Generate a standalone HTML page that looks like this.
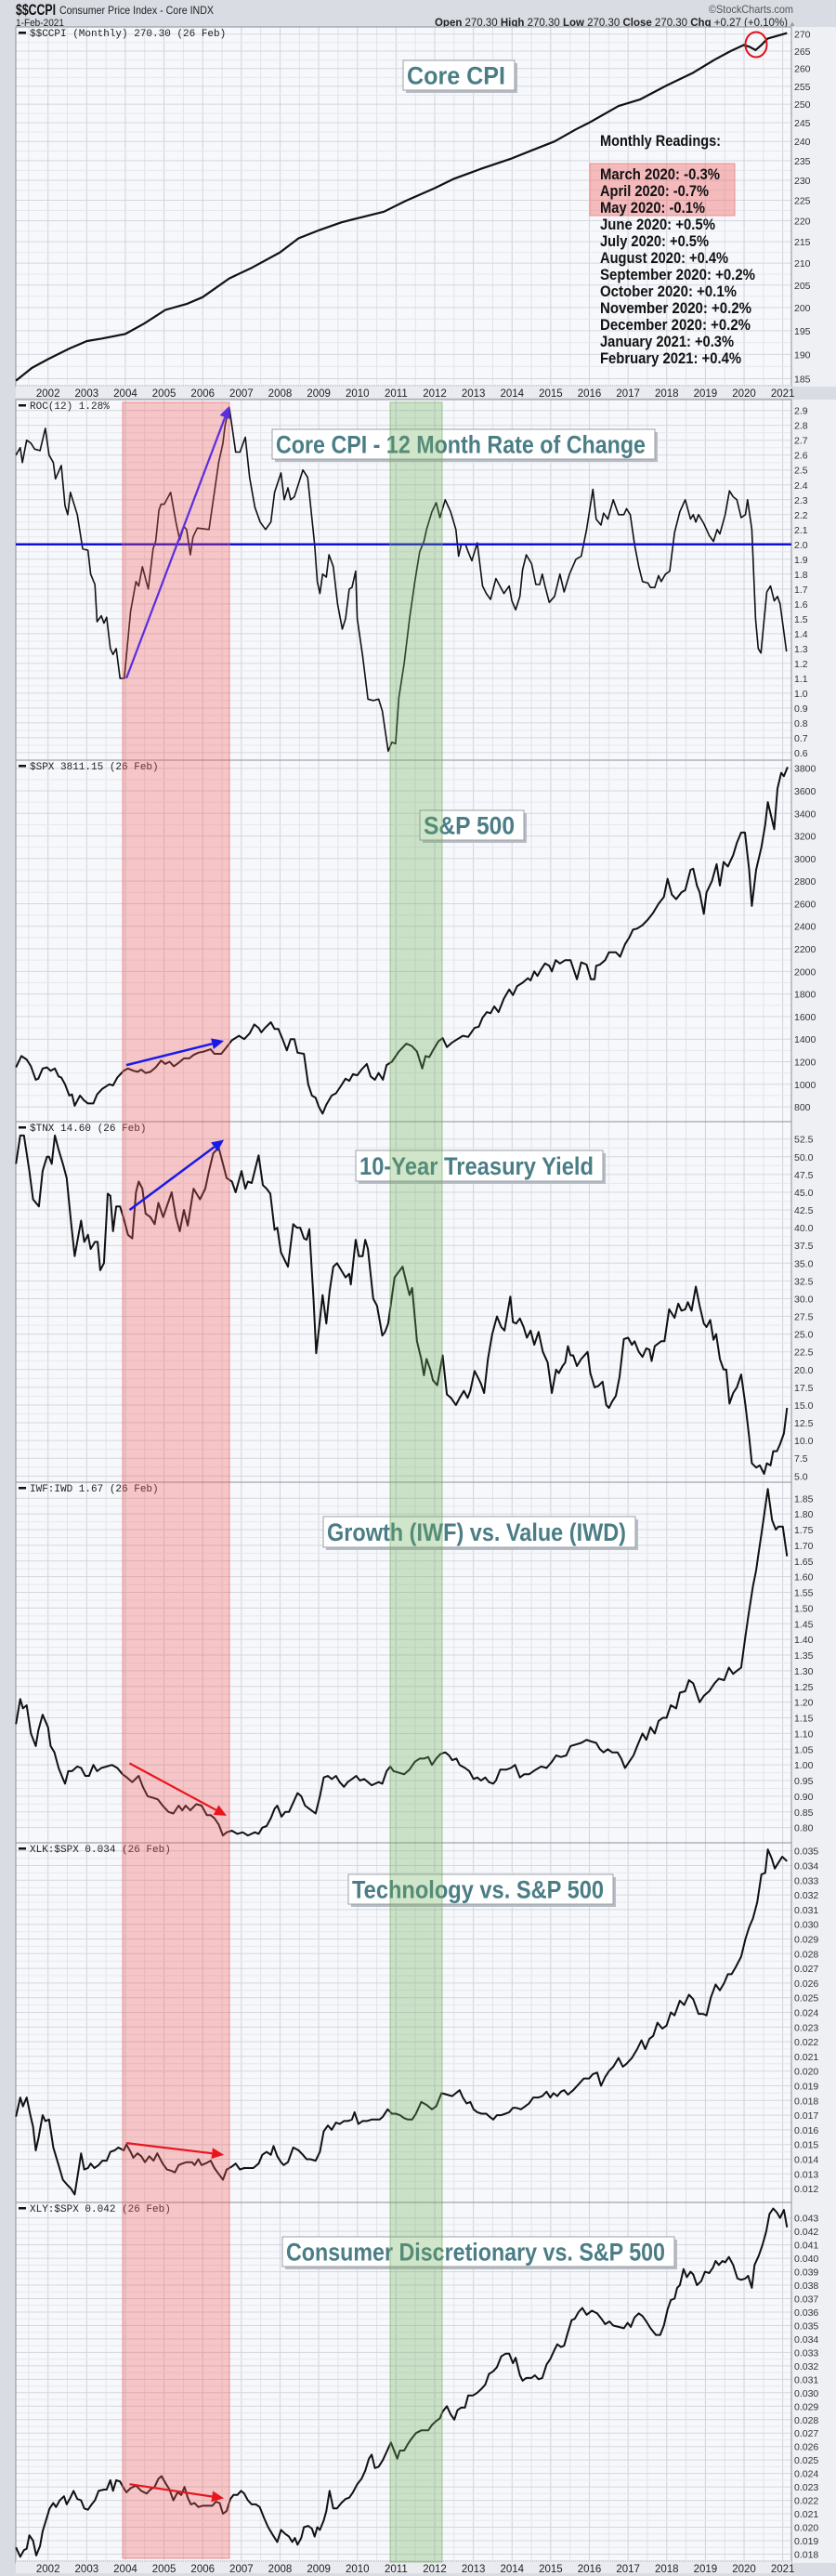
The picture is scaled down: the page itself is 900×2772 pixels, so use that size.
<!DOCTYPE html>
<html><head><meta charset="utf-8">
<style>
html,body{margin:0;padding:0;background:#d9dce3;}
svg{display:block;}
text{font-family:"Liberation Sans",sans-serif;}
.mono{font-family:"Liberation Mono",monospace;font-size:11px;fill:#222;}
.tick{font-size:10.5px;fill:#333;}
.yr{font-size:11.5px;fill:#222;}
.ttl{font-weight:bold;fill:#4a7d85;font-size:27px;}
.mr{font-weight:bold;fill:#111;font-size:17px;}
</style></head>
<body>
<svg id="s" width="900" height="2772" viewBox="0 0 900 2772" xmlns="http://www.w3.org/2000/svg">
<rect x="0" y="0" width="900" height="2772" fill="#d9dce3"/>
<text x="17" y="16" font-weight="bold" font-size="17" textLength="43" lengthAdjust="spacingAndGlyphs" fill="#111">$$CCPI</text>
<text x="64" y="15" font-size="12" textLength="166" lengthAdjust="spacingAndGlyphs" fill="#222">Consumer Price Index - Core INDX</text>
<text x="17" y="28" font-size="11" textLength="52" lengthAdjust="spacingAndGlyphs" fill="#222">1-Feb-2021</text>
<text x="763" y="14" font-size="12" textLength="91" lengthAdjust="spacingAndGlyphs" fill="#555">©StockCharts.com</text>
<text x="468" y="28" font-size="11.5" textLength="380" lengthAdjust="spacingAndGlyphs" fill="#222"><tspan font-weight="bold">Open</tspan> 270.30 <tspan font-weight="bold">High</tspan> 270.30 <tspan font-weight="bold">Low</tspan> 270.30 <tspan font-weight="bold">Close</tspan> 270.30 <tspan font-weight="bold">Chg</tspan> +0.27 (+0.10%)</text>
<text x="849" y="28" font-size="8" fill="#999">▲</text>
<g id="g"></g>
<g id="b"></g>
<g id="a"></g>
</svg>
<script>
(function(){
var NS="http://www.w3.org/2000/svg",G=document.getElementById("g"),GB=document.getElementById("b"),GA=document.getElementById("a");
var P=G;
function el(t,a,txt){var e=document.createElementNS(NS,t);for(var k in a)e.setAttribute(k,a[k]);if(txt!=null)e.textContent=txt;P.appendChild(e);return e;}
var L=17,R=852;
function X(zx){return zx/1.742;}
function xYear(y){return 51.7+(y-2002)*41.63;}
function panel(top,bot,ticks,yf,fmt,legend){
  el("rect",{x:L,y:top,width:R-L,height:bot-top,fill:"#f7f8fb"});
  el("rect",{x:R,y:top,width:900-R,height:bot-top,fill:"#eef0f4"});
  for(var t=2001.5;t<=2021.2;t+=0.5){var x=xYear(t);if(x>L&&x<R)el("line",{x1:x,y1:top,x2:x,y2:bot,stroke:(t%1==0)?"#cfd3db":"#e0e3e9","stroke-width":1});}
  for(var i=0;i<ticks.length;i++){var y=yf(ticks[i]);
    el("line",{x1:L,y1:y,x2:R,y2:y,stroke:"#d3d7de","stroke-width":1});
    if(i+1<ticks.length){var y2=(y+yf(ticks[i+1]))/2;el("line",{x1:L,y1:y2,x2:R,y2:y2,stroke:"#e6e8ed","stroke-width":1});}
    el("text",{x:855,y:y+4,"class":"tick"},fmt(ticks[i]));}
  el("rect",{x:L,y:top,width:R-L,height:bot-top,fill:"none",stroke:"#8a8f99","stroke-width":1});
  el("rect",{x:20,y:top+5,width:8,height:2.5,fill:"#111"});
  el("text",{x:32,y:top+10,"class":"mono"},legend);
}
function series(pts,yf,w){var d="";for(var i=0;i<pts.length;i+=2){d+=(i?"L":"M")+X(pts[i]).toFixed(1)+","+yf(pts[i+1]).toFixed(1);}
  el("path",{d:d,fill:"none",stroke:"#111","stroke-width":w||2,"stroke-linejoin":"round"});}
var arrows=[];
function arrow(x1,y1,x2,y2,c,w){arrows.push([x1,y1,x2,y2,c,w]);}
function drawArrow(x1,y1,x2,y2,c,w){var a=Math.atan2(y2-y1,x2-x1),h=13,s=6;
  var bx=x2-h*Math.cos(a),by=y2-h*Math.sin(a);
  el("line",{x1:x1,y1:y1,x2:bx,y2:by,stroke:c,"stroke-width":w||2.5});
  el("polygon",{points:x2+","+y2+" "+(bx+s*Math.sin(a))+","+(by-s*Math.cos(a))+" "+(bx-s*Math.sin(a))+","+(by+s*Math.cos(a)),fill:c});}
function title(x1,y1,x2,y2,txt){
  el("rect",{x:x1+3,y:y1+3,width:x2-x1,height:y2-y1,fill:"#b8bcc4"});
  el("rect",{x:x1,y:y1,width:x2-x1,height:y2-y1,fill:"#fff",stroke:"#9aa0a8","stroke-width":1});
  el("text",{x:x1+4,y:(y1+y2)/2+9.5,"class":"ttl",textLength:(x2-x1-14),lengthAdjust:"spacingAndGlyphs"},txt);}
function rng(a,b,s){var r=[];for(var v=a;v<=b+1e-9;v+=s)r.push(Math.round(v*1e6)/1e6);return r;}
function yearAxis(y){el("rect",{x:L,y:y-9,width:R-L,height:14,fill:"#e9ebf0"});
  el("line",{x1:L,y1:y-8,x2:R,y2:y-8,stroke:"#b0b4bc","stroke-dasharray":"1,1"});
  for(var yr=2002;yr<=2021;yr++)el("text",{x:xYear(yr),y:y+4,"class":"yr","text-anchor":"middle"},""+yr);}

/* P1 Core CPI (log) */
var p1f=function(v){return 36.7+(Math.log(270)-Math.log(v))*980.7;};
panel(29,416,rng(185,270,5),p1f,function(v){return ""+v;},"$$CCPI (Monthly) 270.30 (26 Feb)");
var cpi=[[30,184.6],[60,187.2],[90,189],[130,191.2],[163,192.8],[190,193.3],[235,194.3],[270,196.5],[310,199.5],[350,200.8],[380,202.3],[430,206.5],[470,208.8],[525,212.5],[560,215.8],[600,217.8],[640,219.6],[670,220.6],[720,222.2],[760,224.8],[815,228],[850,230.3],[900,232.8],[960,235.6],[1000,237.8],[1040,240],[1080,243.2],[1105,245],[1160,249.5],[1200,251.3],[1250,255.2],[1300,258.8],[1340,262.5],[1370,265],[1395,266.8],[1405,266.3],[1417,265.3],[1428,266.8],[1440,268.7],[1460,269.6],[1476,270.3]];
var cp=[];cpi.forEach(function(p){cp.push(p[0],p[1]);});
series(cp,p1f,2.2);
el("ellipse",{cx:814,cy:48,rx:11.5,ry:13.5,fill:"none",stroke:"#e0101a","stroke-width":2});
title(434,65,554,97,"Core CPI");
el("text",{x:646,y:157,"class":"mr",textLength:130,lengthAdjust:"spacingAndGlyphs"},"Monthly Readings:");
el("rect",{x:635,y:176,width:156,height:56,fill:"rgba(240,110,110,0.45)",stroke:"#e89090"});
var mr=[["March 2020:  -0.3%",129],["April 2020:  -0.7%",117],["May 2020:  -0.1%",113],["June 2020:  +0.5%",124],["July 2020:  +0.5%",117],["August 2020:  +0.4%",138],["September 2020:  +0.2%",167],["October 2020:  +0.1%",147],["November 2020:  +0.2%",163],["December 2020:  +0.2%",162],["January 2021:  +0.3%",144],["February 2021:  +0.4%",152]];
mr.forEach(function(m,i){el("text",{x:646,y:193+i*18,"class":"mr",textLength:m[1],lengthAdjust:"spacingAndGlyphs"},m[0]);});
yearAxis(423);

/* P2 ROC */
var p2f=function(v){return 441.7+(2.9-v)*160.1;};
panel(430,818,rng(0.6,2.9,0.1),p2f,function(v){return v.toFixed(1);},"ROC(12) 1.28%");
series([30,2.6,38,2.65,42,2.55,50,2.7,58,2.68,65,2.64,75,2.63,85,2.78,92,2.6,100,2.55,104,2.44,115,2.53,122,2.26,127,2.2,132,2.35,145,2.2,155,1.97,165,1.96,170,1.8,178,1.73,182,1.48,190,1.52,195,1.47,200,1.51,207,1.3,212,1.26,218,1.3,225,1.1,233,1.1,245,1.55,255,1.75,260,1.72,267,1.85,278,1.7,287,1.97,292,2.02,298,2.23,302,2.27,308,2.27,320,2.35,330,2.15,337,2.03,345,2.12,350,2.1,357,1.93,362,2.05,370,2.11,392,2.1,402,2.35,410,2.55,418,2.68,422,2.8,430,2.92,436,2.77,442,2.62,450,2.62,460,2.72,468,2.45,478,2.25,488,2.15,498,2.1,508,2.15,515,2.35,527,2.48,533,2.3,540,2.38,545,2.3,552,2.32,568,2.5,577,2.45,590,2.0,595,1.75,600,1.67,605,1.8,612,1.78,617,1.93,625,1.85,633,1.6,642,1.43,648,1.5,655,1.7,660,1.71,667,1.82,670,1.5,680,1.25,690,0.96,700,0.95,710,0.96,717,0.88,728,0.61,735,0.67,742,0.66,748,0.97,758,1.2,768,1.5,778,1.75,787,1.95,795,2.02,800,2.1,810,2.22,818,2.28,825,2.18,835,2.3,845,2.22,855,2.1,860,1.92,865,2.0,873,2.0,878,1.95,885,1.89,895,2.01,905,1.72,912,1.67,920,1.63,930,1.77,945,1.67,955,1.72,960,1.62,967,1.56,975,1.65,980,1.83,987,1.93,997,1.87,1005,1.73,1012,1.73,1017,1.8,1022,1.72,1030,1.61,1040,1.65,1050,1.8,1058,1.68,1068,1.8,1080,1.9,1090,1.92,1100,2.1,1112,2.37,1118,2.17,1127,2.13,1132,2.21,1140,2.17,1150,2.3,1160,2.2,1170,2.2,1175,2.24,1182,2.2,1190,2.0,1198,1.85,1205,1.75,1215,1.74,1220,1.71,1228,1.71,1235,1.79,1240,1.75,1248,1.8,1256,1.82,1265,2.08,1275,2.22,1285,2.3,1295,2.17,1300,2.2,1305,2.15,1310,2.2,1320,2.14,1330,2.06,1338,2.02,1345,2.1,1350,2.07,1360,2.2,1368,2.36,1375,2.32,1382,2.3,1390,2.18,1398,2.2,1402,2.3,1410,2.1,1417,1.5,1422,1.3,1427,1.27,1438,1.68,1445,1.72,1452,1.62,1458,1.65,1463,1.6,1475,1.28],p2f,1.6);
el("line",{x1:L,y1:p2f(2.0),x2:R,y2:p2f(2.0),stroke:"#1010d0","stroke-width":2.5});
arrow(X(237),p2f(1.1),X(430),p2f(2.93),"#5a2ee0",2.2);
title(293,462,705,494,"Core CPI - 12 Month Rate of Change");

/* P3 SPX */
var p3f=function(v){return 826.7+(3800-v)*0.12146;};
panel(818,1207,rng(800,3800,200),p3f,function(v){return ""+v;},"$SPX 3811.15 (26 Feb)");
series([30,1150,40,1250,50,1220,58,1160,67,1040,72,1050,80,1140,88,1150,95,1120,103,1140,110,1070,115,1060,122,1000,130,900,135,910,140,810,150,900,157,860,165,830,175,830,182,910,192,960,205,1000,212,990,220,1060,232,1120,240,1140,250,1120,258,1110,265,1130,273,1100,282,1110,292,1150,302,1210,310,1180,318,1200,326,1160,335,1190,345,1230,355,1230,363,1260,372,1280,382,1290,395,1310,402,1270,415,1270,425,1330,435,1390,448,1430,458,1400,468,1450,477,1530,485,1500,490,1460,497,1500,508,1550,515,1490,522,1490,530,1400,538,1300,545,1400,552,1400,558,1280,570,1270,578,1000,585,900,592,880,598,800,605,740,612,820,622,900,630,920,640,990,648,1050,655,1030,662,1090,670,1080,678,1130,688,1180,695,1070,703,1040,710,1100,718,1040,725,1170,735,1200,748,1290,762,1360,772,1340,782,1290,792,1140,798,1250,805,1240,812,1300,822,1380,830,1410,838,1330,848,1370,858,1400,868,1430,878,1420,890,1500,898,1510,905,1590,913,1640,920,1630,927,1690,935,1640,945,1760,955,1840,962,1790,970,1870,980,1900,990,1940,995,1920,1002,2000,1008,1960,1015,2020,1022,2070,1030,2050,1035,2000,1042,2100,1050,2070,1060,2100,1070,2100,1082,1930,1090,2080,1100,2060,1108,1930,1115,1930,1118,2050,1125,2060,1135,2100,1142,2170,1155,2170,1163,2130,1172,2240,1180,2300,1187,2370,1195,2380,1205,2410,1215,2460,1225,2520,1235,2600,1245,2660,1252,2820,1260,2680,1268,2640,1278,2700,1285,2720,1295,2900,1300,2910,1307,2760,1312,2700,1320,2510,1325,2700,1335,2800,1344,2950,1350,2760,1357,2970,1365,2930,1375,3030,1382,3140,1390,3230,1397,3230,1405,2900,1410,2580,1418,2900,1428,3100,1435,3300,1440,3500,1452,3260,1458,3620,1465,3760,1470,3730,1477,3811],p3f,2);
arrow(X(237),p3f(1170),X(420),p3f(1385),"#1a1ae8",2.5);
title(452,872,564,904,"S&P 500");

/* P4 TNX */
var p4f=function(v){return 1225.7+(52.5-v)*7.634;};
panel(1207,1595,rng(5,52.5,2.5),p4f,function(v){return v.toFixed(1);},"$TNX 14.60 (26 Feb)");
series([30,49,38,53,45,53,55,48,62,44,73,43,80,48,88,50,92,50,97,49,103,53,110,51,118,49,125,47,133,41,140,36,152,41,158,38,165,39,170,37,178,38,183,38,188,34,195,35,202,44.8,207,44.5,212,39.5,218,43,225,43,233,41,240,39,248,38.5,255,45,260,46.5,267,45.5,273,42,282,41.5,290,40.5,297,43.5,306,41.5,322,45,330,41.5,337,39.5,345,42.5,352,40.3,363,45.5,375,44,385,45.5,392,48,400,50.5,410,51.3,418,49,425,47,435,46.5,442,45,453,48,460,45.5,465,46.5,472,46.3,485,50.2,493,46,500,45.5,507,44.8,515,39.7,520,40,527,36.5,540,34.5,550,40.5,557,40,563,40,570,38.5,575,38.3,580,39.8,588,30,593,22.3,600,27,605,30.5,612,26.5,618,31,625,34.5,632,35,640,34,648,33,655,33.5,658,32,667,38.3,673,36,680,36,685,38.3,690,37,700,30,707,29,717,24.8,722,25.3,728,26.5,740,33,745,33.5,755,34.5,763,32,768,30.5,773,31.5,782,24,790,21.5,795,19.2,800,21.5,807,20,812,18.5,820,17.8,830,22,838,16.5,846,16,855,15,862,16,870,17,877,16,882,17,890,19.8,897,18.8,902,18,908,16.7,915,21.5,923,25,932,27.5,940,26,946,25.5,957,30.3,962,26.7,968,26.5,975,27.2,982,26,988,24.5,995,25.5,1002,23.5,1010,25.3,1018,22.5,1027,21,1035,16.7,1043,20,1048,19.5,1055,20.5,1060,21,1065,23.3,1070,22,1075,22,1082,20.5,1090,21.5,1102,22.5,1107,19.5,1115,17.5,1122,17.7,1130,18.3,1137,15,1142,14.6,1148,15.5,1155,16.3,1162,19,1170,24.3,1178,24.5,1185,23.5,1190,24,1198,22.5,1205,21.8,1212,23,1218,22.8,1222,21.2,1228,23.3,1240,24,1246,24,1255,28.5,1265,27.3,1272,29.3,1278,28.3,1285,28.5,1290,29.5,1297,28.3,1305,31.7,1312,29,1320,26.5,1325,26,1332,27,1338,24.2,1343,25,1350,21.5,1357,20,1362,20,1368,15.2,1375,16.7,1382,17.5,1390,19.3,1398,15,1405,10.5,1410,6.8,1418,6.2,1425,6.5,1433,5.3,1438,6.8,1445,6.5,1450,8.5,1457,8.5,1463,9.5,1470,11,1476,14.6],p4f,2);
arrow(X(243),p4f(42.5),X(420),p4f(52.4),"#1a1ae8",2.5);
title(383,1238,649,1271,"10-Year Treasury Yield");

/* P5 IWF:IWD */
var p5f=function(v){return 1612.3+(1.85-v)*337.5;};
panel(1595,1983,rng(0.80,1.85,0.05),p5f,function(v){return v.toFixed(2);},"IWF:IWD 1.67 (26 Feb)");
series([30,1.13,38,1.21,43,1.18,50,1.19,58,1.1,67,1.06,72,1.11,80,1.16,90,1.12,95,1.06,102,1.04,110,0.99,117,0.96,122,0.94,128,0.98,135,0.98,145,0.995,152,0.99,160,0.965,167,0.965,175,1.0,182,0.98,190,0.99,200,0.995,210,1.0,220,0.99,230,0.97,238,0.96,248,0.945,260,0.965,268,0.93,277,0.9,287,0.895,296,0.89,305,0.87,316,0.85,325,0.845,335,0.87,342,0.855,348,0.87,357,0.855,368,0.875,378,0.87,388,0.84,395,0.84,402,0.83,410,0.81,418,0.775,425,0.785,435,0.79,445,0.78,455,0.785,465,0.775,478,0.785,485,0.78,492,0.8,500,0.805,508,0.83,515,0.86,520,0.87,528,0.835,535,0.85,542,0.85,550,0.88,558,0.91,565,0.9,572,0.87,580,0.86,592,0.845,600,0.9,607,0.96,615,0.965,622,0.955,630,0.965,637,0.945,645,0.93,652,0.945,660,0.955,668,0.965,675,0.95,683,0.955,690,0.945,697,0.935,710,0.945,717,0.94,725,0.98,732,0.995,738,0.98,748,0.975,758,0.97,768,0.985,778,1.01,787,1.02,795,1.02,803,1.025,810,1.0,818,1.02,826,1.035,835,1.04,842,1.03,848,1.015,856,1.02,862,1.0,872,0.99,880,0.98,888,0.955,895,0.96,902,0.95,910,0.96,917,0.945,925,0.94,930,0.95,938,0.985,950,0.985,958,0.99,966,1.0,975,0.96,983,0.97,992,0.97,1005,0.985,1015,0.995,1025,0.99,1035,1.01,1043,1.03,1052,1.025,1062,1.03,1070,1.06,1080,1.065,1090,1.07,1100,1.08,1108,1.075,1118,1.07,1125,1.05,1132,1.04,1140,1.05,1148,1.04,1158,1.04,1165,1.02,1172,0.99,1180,1.01,1188,1.03,1195,1.06,1205,1.1,1212,1.08,1220,1.12,1228,1.1,1235,1.14,1243,1.15,1250,1.15,1258,1.19,1268,1.18,1275,1.23,1285,1.235,1292,1.27,1300,1.26,1312,1.2,1320,1.22,1330,1.235,1340,1.26,1348,1.275,1358,1.27,1367,1.31,1375,1.29,1382,1.3,1390,1.31,1397,1.4,1403,1.47,1412,1.57,1418,1.62,1423,1.68,1430,1.76,1440,1.88,1448,1.78,1455,1.75,1460,1.76,1468,1.76,1476,1.665],p5f,2);
arrow(X(243),p5f(1.005),X(425),p5f(0.838),"#e8161c",2.2);
title(348,1632,684,1665,"Growth (IWF) vs. Value (IWD)");

/* P6 XLK */
var p6f=function(v){return 1991.7+(35-v)*15.8;};
panel(1983,2370,rng(12,35,1),p6f,function(v){return "0.0"+v;},"XLK:$SPX 0.034 (26 Feb)");
series([30,16.9,38,18.2,43,17.6,50,18.2,57,17.0,62,16.2,67,14.6,72,15.4,80,17.0,85,16.6,92,16.7,100,14.8,110,13.6,118,12.6,125,12.3,133,12.0,140,11.6,147,13.2,152,14.4,158,13.3,165,13.4,170,13.7,177,13.4,185,13.6,192,13.9,200,13.9,207,14.5,215,14.6,222,14.8,232,14.6,237,15.0,245,14.5,250,14.1,258,14.4,265,14.2,272,13.8,280,14.2,288,13.9,295,14.4,305,13.7,313,13.3,322,13.2,328,13.1,335,13.6,342,13.7,350,13.8,360,13.8,365,13.6,372,14.0,378,13.6,385,13.7,395,13.9,402,13.4,410,13.0,418,12.6,425,13.3,435,13.5,442,13.7,450,13.3,458,13.4,468,13.4,475,13.4,485,13.7,492,14.3,500,14.5,508,14.3,513,14.9,520,14.2,527,13.8,532,13.6,540,13.8,550,14.8,560,14.6,568,14.3,575,14.0,582,14.0,592,13.9,600,14.5,607,15.9,615,16.3,622,16.0,630,16.5,637,16.4,645,16.6,652,16.6,660,16.7,665,17.2,672,16.4,680,16.6,688,16.6,697,16.7,705,16.7,712,16.7,718,16.9,727,17.4,735,17.1,742,17.1,750,17.0,758,16.8,765,16.7,773,16.7,780,17.1,790,17.9,800,17.7,810,17.4,818,17.6,828,18.5,838,18.4,848,18.3,855,18.5,862,18.7,868,18.2,875,17.8,882,17.9,888,17.4,895,17.2,903,17.1,912,17.1,918,16.9,925,16.7,932,17.0,940,17.0,948,17.1,955,17.2,962,17.5,968,17.5,977,17.4,985,17.6,992,17.8,1000,18.2,1010,18.2,1017,18.3,1025,18.6,1032,18.2,1038,18.5,1045,18.3,1052,18.6,1058,18.7,1065,18.4,1075,18.7,1085,19.1,1095,19.5,1105,19.5,1112,19.8,1120,19.9,1127,19.0,1135,19.6,1142,20.0,1150,20.3,1160,20.9,1168,20.3,1175,20.5,1185,20.9,1195,21.5,1203,22.1,1210,21.5,1218,22.2,1225,22.4,1233,23.3,1242,22.9,1250,23.1,1258,24.0,1265,23.8,1275,24.8,1283,24.5,1292,25.2,1300,24.9,1310,23.9,1318,23.9,1325,23.8,1333,25.0,1342,25.9,1350,25.5,1358,26.0,1365,26.6,1372,26.6,1380,27.1,1390,27.8,1398,29.0,1405,29.8,1412,30.4,1420,31.5,1428,33.4,1435,33.5,1440,35.1,1447,34.5,1453,33.8,1460,34.2,1467,34.6,1476,34.3],p6f,2);
arrow(X(237),p6f(15.1),X(420),p6f(14.3),"#e8161c",2.2);
title(375,2017,660,2049,"Technology vs. S&P 500");

/* P7 XLY */
var p7f=function(v){return 2386.7+(43-v)*14.47;};
panel(2370,2758,rng(18,43,1),p7f,function(v){return "0.0"+v;},"XLY:$SPX 0.042 (26 Feb)");
series([30,18.5,38,17.8,45,18.3,50,18.4,55,19.4,62,19.0,68,17.9,75,18.6,80,19.7,87,20.6,93,21.4,100,21.8,105,21.5,112,22.0,120,22.3,125,21.7,132,22.2,138,22.7,145,22.1,152,22.0,158,21.4,165,21.3,172,21.7,178,22.0,185,22.7,195,22.8,200,22.8,207,23.5,212,22.7,218,23.5,225,23.4,232,22.9,237,22.6,245,22.9,255,23.1,265,22.7,275,22.5,282,22.8,290,23.0,297,23.6,303,23.8,310,23.3,318,22.8,325,22.0,333,22.6,340,22.4,346,23.0,352,22.2,358,21.7,365,21.8,372,21.5,380,21.6,388,21.6,398,21.6,405,21.9,412,21.8,418,21.0,425,21.2,432,22.1,438,22.4,445,22.4,452,22.7,458,22.5,465,22.0,472,21.7,480,21.7,487,21.5,495,20.7,503,20.0,512,19.4,520,18.9,527,19.8,535,19.5,542,19.3,548,18.9,553,19.2,558,18.7,565,19.2,570,20.0,578,20.1,585,19.9,590,19.3,595,20.0,600,19.8,607,20.5,612,21.2,618,22.7,625,21.4,632,21.4,640,21.8,648,22.1,655,22.2,662,22.6,670,23.2,678,23.6,685,24.2,692,25.1,697,25.4,703,24.4,710,24.5,718,25.0,725,25.6,733,26.3,740,25.6,745,25.1,750,25.7,758,25.7,765,26.2,772,26.6,780,27.0,790,27.2,797,27.2,803,27.2,810,27.6,818,27.9,825,28.1,830,28.6,838,29.0,845,28.4,852,28.0,858,28.7,865,28.9,872,28.9,878,29.8,887,29.8,895,30.0,903,30.3,910,30.6,917,31.4,925,31.6,932,31.9,940,32.7,948,32.9,955,32.9,962,32.2,967,32.6,975,31.3,980,30.9,987,31.1,997,31.1,1003,31.3,1010,31.0,1017,31.1,1025,32.1,1032,32.5,1040,33.2,1045,33.6,1052,33.4,1058,33.5,1065,34.5,1072,35.4,1078,35.5,1085,36.0,1092,36.3,1100,35.8,1110,36.1,1120,35.9,1128,35.5,1135,35.1,1143,35.3,1150,35.0,1160,34.9,1170,34.8,1177,35.2,1183,34.9,1190,35.6,1198,35.9,1205,35.7,1212,35.3,1220,34.8,1230,34.3,1238,34.3,1245,35.0,1252,36.2,1258,36.9,1265,37.0,1270,37.8,1275,38.0,1282,39.2,1288,38.6,1295,39.0,1300,38.8,1307,38.0,1315,38.3,1322,39.0,1330,38.9,1337,39.3,1342,39.8,1348,39.5,1355,39.8,1360,39.7,1367,40.1,1375,39.5,1383,38.5,1390,38.4,1398,38.5,1403,38.7,1410,37.8,1415,39.5,1423,40.2,1430,41.0,1437,42.0,1443,43.3,1450,43.7,1457,43.4,1463,43.0,1470,43.6,1476,42.3],p7f,2);
arrow(X(243),p7f(23.2),X(420),p7f(22.15),"#e8161c",2.2);
title(304,2407,726,2439,"Consumer Discretionary vs. S&P 500");
yearAxis(2764);

/* bands */
P=GB;
el("rect",{x:132,y:433,width:115,height:2320,fill:"rgba(242,90,90,0.32)",stroke:"rgba(230,90,90,0.6)"});
el("rect",{x:420,y:433,width:56,height:2324,fill:"rgba(110,175,90,0.32)",stroke:"rgba(110,170,90,0.6)"});
/* arrows on top */
P=GA;
arrows.forEach(function(a){drawArrow(a[0],a[1],a[2],a[3],a[4],a[5]);});
})();
</script>
</body></html>
